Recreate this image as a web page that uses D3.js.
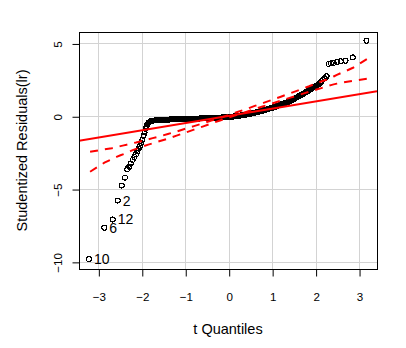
<!DOCTYPE html>
<html>
<head>
<meta charset="utf-8">
<script src="https://cdn.jsdelivr.net/npm/d3@7"></script>
<style>
  html, body { margin: 0; padding: 0; background: #ffffff; }
  svg { display: block; }
  text { font-family: "Liberation Sans", Arial, sans-serif; fill: #000; }
</style>
</head>
<body>
<svg id="chart" width="406" height="348"></svg>
<script>
// Tick labels
const xTicks = [-3, -2, -1, 0, 1, 2, 3];
const yTicks = [-10, -5, 0, 5];

// Lower tail of the studentized residuals (t quantile, residual)
const lowerTailQ = [-3.215, -2.863, -2.670, -2.555, -2.463, -2.387, -2.334, -2.288];
const lowerTailR = [-9.81, -7.66, -7.09, -5.79, -4.76, -4.21, -3.63, -3.47];

// Identified observations (index into lowerTailQ / lowerTailR)
const idIndex = [0, 1, 2, 3];
const idLabels = ["10", "6", "12", "2"];

// Bulk of the residuals
const bandQ = [
  -2.253, -2.21, -2.17, -2.134, -2.10, -2.069, -2.04, -2.012, -1.985, -1.96,
  -1.936, -1.913, -1.891, -1.870, -1.850, -1.830, -1.812, -1.794, -1.776, -1.76,
  -1.74, -1.71, -1.68, -1.65, -1.62, -1.59, -1.56, -1.53, -1.50, -1.47,
  -1.44, -1.41, -1.38, -1.35, -1.32, -1.29, -1.26, -1.23, -1.20, -1.17,
  -1.14, -1.11, -1.08, -1.05, -1.02, -0.99, -0.96, -0.93, -0.90, -0.87,
  -0.84, -0.81, -0.78, -0.75, -0.72, -0.69, -0.66, -0.63, -0.60, -0.57,
  -0.54, -0.51, -0.48, -0.45, -0.42, -0.39, -0.36, -0.33, -0.30, -0.27,
  -0.24, -0.21, -0.18, -0.15, -0.12, -0.09, -0.06, -0.03, 0.00, 0.03,
  0.06, 0.09, 0.12, 0.15, 0.18, 0.21, 0.24, 0.27, 0.30, 0.33,
  0.36, 0.39, 0.42, 0.45, 0.48, 0.51, 0.54, 0.57, 0.60, 0.63,
  0.66, 0.69, 0.72, 0.75, 0.78, 0.81, 0.84, 0.87, 0.90, 0.93,
  0.96, 0.99, 1.02, 1.05, 1.08, 1.11, 1.14, 1.17, 1.20, 1.23,
  1.26, 1.29, 1.32, 1.35, 1.38, 1.41, 1.44, 1.47, 1.50, 1.53,
  1.56, 1.59, 1.62, 1.65, 1.68, 1.71, 1.74, 1.77, 1.80, 1.83,
  1.86, 1.89, 1.92, 1.95, 1.98, 2.01, 2.04, 2.07
];
const bandR = [
  -3.25, -3.00, -2.80, -2.62, -2.40, -2.22, -2.05, -1.85, -1.62, -1.35,
  -1.10, -0.86, -0.68, -0.56, -0.47, -0.41, -0.37, -0.34, -0.32, -0.31,
  -0.30, -0.29, -0.27, -0.26, -0.26, -0.25, -0.25, -0.24, -0.24, -0.24,
  -0.23, -0.23, -0.23, -0.22, -0.22, -0.22, -0.21, -0.21, -0.21, -0.20,
  -0.20, -0.20, -0.19, -0.19, -0.19, -0.19, -0.18, -0.18, -0.18, -0.17,
  -0.17, -0.17, -0.17, -0.16, -0.16, -0.16, -0.15, -0.15, -0.15, -0.14,
  -0.14, -0.13, -0.13, -0.13, -0.12, -0.12, -0.11, -0.11, -0.10, -0.10,
  -0.09, -0.09, -0.09, -0.08, -0.08, -0.07, -0.07, -0.06, -0.06, -0.05,
  -0.04, -0.03, -0.01, 0.00, 0.01, 0.03, 0.04, 0.05, 0.07, 0.08,
  0.09, 0.11, 0.12, 0.14, 0.16, 0.18, 0.20, 0.22, 0.24, 0.26,
  0.29, 0.31, 0.34, 0.36, 0.38, 0.41, 0.44, 0.46, 0.49, 0.52,
  0.54, 0.57, 0.60, 0.63, 0.66, 0.70, 0.73, 0.76, 0.79, 0.83,
  0.86, 0.90, 0.93, 0.97, 1.00, 1.05, 1.09, 1.14, 1.19, 1.24,
  1.29, 1.33, 1.38, 1.43, 1.49, 1.54, 1.59, 1.65, 1.70, 1.75,
  1.81, 1.86, 1.92, 1.97, 2.02, 2.08, 2.14, 2.20
];

// Upper tail
const upperTailQ = [2.10, 2.134, 2.17, 2.21, 2.253, 2.300, 2.353, 2.415, 2.489, 2.576, 2.689, 2.857, 3.17];
const upperTailR = [2.28, 2.40, 2.52, 2.60, 2.74, 3.59, 3.63, 3.66, 3.73, 3.77, 3.81, 4.04, 5.19];

// Pointwise 95% envelope
const envelopeQ = [
  -3.19, -2.86, -2.69, -2.58, -2.49, -2.415, -2.353, -2.30, -2.25, -2.21,
  -2.13, -2.04, -1.96, -1.85, -1.75, -1.60, -1.40, -1.20, -1.00, -0.80,
  -0.60, -0.40, -0.20, 0.00, 0.20, 0.40, 0.60, 0.80, 1.00, 1.20,
  1.40, 1.60, 1.75, 1.85, 1.96, 2.04, 2.13, 2.21, 2.25, 2.30,
  2.353, 2.415, 2.49, 2.58, 2.69, 2.86, 3.19
];
const envelopeUpper = [
  -2.44, -2.27, -2.20, -2.12, -2.05, -2.00, -1.96, -1.92, -1.88, -1.85,
  -1.80, -1.73, -1.67, -1.58, -1.50, -1.39, -1.22, -1.05, -0.86, -0.68,
  -0.49, -0.30, -0.11, 0.09, 0.29, 0.49, 0.71, 0.92, 1.13, 1.34,
  1.56, 1.78, 1.95, 2.06, 2.19, 2.28, 2.39, 2.47, 2.51, 2.57,
  2.64, 2.73, 2.84, 2.96, 3.10, 3.33, 3.95
];
const envelopeLower = [
  -3.81, -3.19, -2.95, -2.79, -2.68, -2.60, -2.52, -2.45, -2.38, -2.33,
  -2.24, -2.15, -2.06, -1.95, -1.86, -1.72, -1.54, -1.33, -1.13, -0.92,
  -0.71, -0.50, -0.29, -0.09, 0.11, 0.30, 0.50, 0.69, 0.87, 1.07,
  1.26, 1.45, 1.59, 1.68, 1.78, 1.85, 1.93, 2.01, 2.05, 2.09,
  2.14, 2.19, 2.24, 2.29, 2.35, 2.44, 2.58
];

// Robust reference line
const lineIntercept = 0.03;
const lineSlope = 0.497;

const svg = d3.select("#chart");
svg.append("rect").attr("width", 406).attr("height", 348).attr("fill", "#fff");

const plotLeft = 79, plotRight = 377, plotTop = 32, plotBottom = 269;
const x = d3.scaleLinear().domain([-3.445, 3.413]).range([plotLeft, plotRight]);
const y = d3.scaleLinear().domain([-10.49, 5.786]).range([plotBottom, plotTop]);

svg.append("defs").append("clipPath").attr("id", "plotArea")
  .append("rect").attr("x", plotLeft).attr("y", plotTop)
  .attr("width", plotRight - plotLeft).attr("height", plotBottom - plotTop);

// Grid
const grid = svg.append("g").attr("stroke", "#d3d3d3").attr("stroke-width", 1);
grid.selectAll(".gx").data(xTicks).join("line")
  .attr("x1", d => Math.round(x(d)) + 0.5).attr("x2", d => Math.round(x(d)) + 0.5)
  .attr("y1", plotTop).attr("y2", plotBottom);
grid.selectAll(".gy").data(yTicks).join("line")
  .attr("y1", d => Math.round(y(d)) + 0.5).attr("y2", d => Math.round(y(d)) + 0.5)
  .attr("x1", plotLeft).attr("x2", plotRight);

const plot = svg.append("g").attr("clip-path", "url(#plotArea)");

// Points (open circles, drawn without anti-aliasing like a bitmap device)
const points = []
  .concat(lowerTailQ.map((q, i) => [q, lowerTailR[i]]))
  .concat(bandQ.map((q, i) => [q, bandR[i]]))
  .concat(upperTailQ.map((q, i) => [q, upperTailR[i]]));

plot.append("g").attr("shape-rendering", "crispEdges")
  .selectAll("circle").data(points).join("circle")
  .attr("cx", d => x(d[0])).attr("cy", d => y(d[1])).attr("r", 2.5)
  .attr("fill", "none").attr("stroke", "#000").attr("stroke-width", 1.1);

// Reference line
const xd = x.domain();
plot.append("line")
  .attr("x1", x(xd[0])).attr("y1", y(lineIntercept + lineSlope * xd[0]))
  .attr("x2", x(xd[1])).attr("y2", y(lineIntercept + lineSlope * xd[1]))
  .attr("stroke", "#ff0000").attr("stroke-width", 2);

// Envelope
const env = d3.line().x(d => x(d[0])).y(d => y(d[1]));
[envelopeUpper, envelopeLower].forEach(arr => {
  plot.append("path")
    .attr("d", env(envelopeQ.map((q, i) => [q, arr[i]])))
    .attr("fill", "none").attr("stroke", "#ff0000").attr("stroke-width", 2)
    .attr("stroke-dasharray", "8,7");
});

// Labels for identified points
svg.append("g").selectAll("text").data(idIndex).join("text")
  .attr("x", i => x(lowerTailQ[i]) + 5)
  .attr("y", i => y(lowerTailR[i]))
  .attr("dominant-baseline", "central")
  .attr("font-size", "14px")
  .text((i, k) => idLabels[k]);

// Box
svg.append("rect").attr("x", plotLeft + 0.5).attr("y", plotTop + 0.5)
  .attr("width", plotRight - plotLeft).attr("height", plotBottom - plotTop)
  .attr("fill", "none").attr("stroke", "#000").attr("stroke-width", 1);

// Axes
const xAxis = svg.append("g").attr("transform", `translate(0.5,${plotBottom + 0.5})`)
  .call(d3.axisBottom(x).tickValues(xTicks).tickSize(7).tickSizeOuter(0).tickFormat(d3.format("d")));
xAxis.select(".domain").remove();
xAxis.selectAll("line").attr("stroke", "#000");
xAxis.selectAll("text").attr("y", 23).attr("font-size", "11.6px")
  .attr("font-family", "'Liberation Sans', Arial, sans-serif");

const yAxis = svg.append("g").attr("transform", `translate(${plotLeft + 0.5},0.5)`)
  .call(d3.axisLeft(y).tickValues(yTicks).tickSize(7).tickSizeOuter(0).tickFormat(d3.format("d")));
yAxis.select(".domain").remove();
yAxis.selectAll("line").attr("stroke", "#000");
yAxis.selectAll("text")
  .attr("x", null).attr("dy", null)
  .attr("text-anchor", "middle").attr("dominant-baseline", "central")
  .attr("transform", "translate(-22.5,0) rotate(-90)")
  .attr("font-size", "11.6px")
  .attr("font-family", "'Liberation Sans', Arial, sans-serif");

// Axis titles
svg.append("text").attr("x", (plotLeft + plotRight) / 2).attr("y", 334)
  .attr("text-anchor", "middle").attr("font-size", "14.5px").text("t Quantiles");
svg.append("text")
  .attr("transform", `translate(27,${(plotTop + plotBottom) / 2}) rotate(-90)`)
  .attr("text-anchor", "middle").attr("font-size", "14.5px")
  .text("Studentized Residuals(lr)");
</script>
</body>
</html>
